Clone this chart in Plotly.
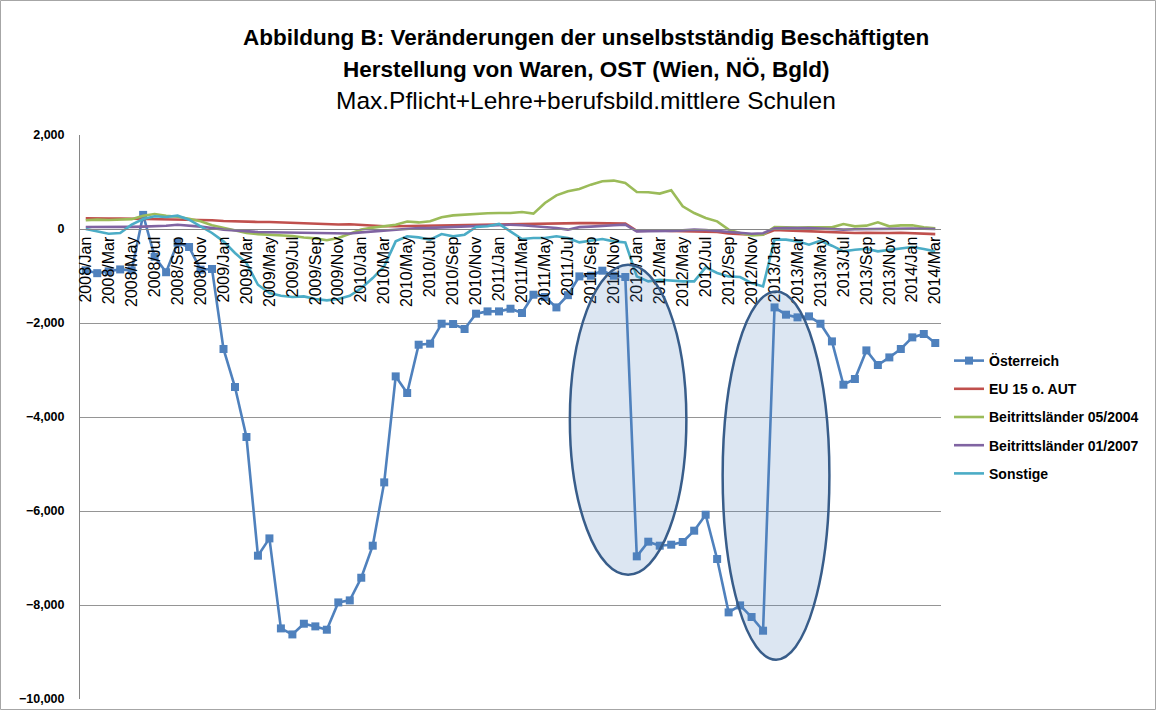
import plotly.graph_objects as go

month_names = ["Jan", "Feb", "Mar", "Apr", "May", "Jun", "Jul", "Aug", "Sep", "Oct", "Nov", "Dec"]
months = [f"{y}/{m}" for y in range(2008, 2015) for m in month_names][:75]
tick_labels = months[::2]

oesterreich = [-880, -940, -900, -860, -880, 300, -590, -920, -290, -383, -866, -851,
               -2553, -3362, -4426, -6951, -6583, -8498, -8626, -8398, -8455, -8526, -7945, -7902,
               -7420, -6738, -5391, -3136, -3490, -2462, -2440, -2015, -2022, -2128, -1802, -1753,
               -1753, -1696, -1787, -1398, -1447, -1668, -1408, -1008, -994, -887, -994, -1021,
               -6965, -6653, -6738, -6717, -6660, -6419, -6079, -7022, -8157, -8008, -8256, -8547,
               -1668, -1823, -1880, -1859, -2015, -2391, -3313, -3192, -2583, -2894, -2732, -2553,
               -2306, -2234, -2426]

eu15 = [230, 235, 225, 222, 218, 212, 215, 212, 210, 200, 195, 185,
        170, 160, 160, 150, 150, 140, 130, 115, 100, 95, 95, 100,
        85, 65, 60, 60, 65, 70, 75, 75, 80, 85, 90, 100,
        105, 110, 110, 115, 120, 115, 120, 125, 125, 125, 125, 115,
        -40, -30, -30, -40, -45, -55, -45, -65, -95, -110, -120, -115,
        -20, -30, -40, -50, -55, -65, -80, -85, -80, -90, -85, -80,
        -85, -100, -110]

bl2004 = [185, 200, 190, 195, 210, 280, 320, 280, 260, 220, 163, 80,
          21, -40, -85, -110, -120, -130, -150, -180, -200, -240, -190, -100,
          -10, 30, 60, 92, 160, 140, 163, 248, 290, 310, 327, 335,
          340, 340, 362, 327, 554, 717, 802, 852, 944, 1015, 1030, 980,
          788, 781, 753, 824, 483, 340, 234, 163, -14, -85, -135, -120,
          43, 35, 30, 35, 35, 35, 106, 57, 71, 142, 57, 78,
          78, 35, 14]

bl2007 = [43, 40, 40, 45, 45, 50, 55, 70, 90, 75, 50, 20,
          -14, -30, -50, -64, -70, -75, -80, -85, -90, -95, -100, -95,
          -71, -50, -28, -10, 10, 21, 25, 35, 45, 57, 60, 70,
          80, 92, 80, 60, 43, 20, -14, 40, 50, 71, 80, 92,
          -50, -45, -50, -40, -30, -14, -20, -40, -71, -85, -100, -90,
          14, 18, 21, 20, 10, 0, -14, -5, 0, 5, 7, 7,
          7, 5, 0]

sonstige = [0, -50, -100, -85, 92, 213, 270, 256, 284, 199, 57, -85,
            -263, -511, -724, -1186, -1363, -1420, -1448, -1434, -1491, -1519, -1490, -1420,
            -1260, -1044, -795, -263, -156, -178, -227, -107, -156, -121, 43, 57,
            107, -50, -213, -192, -192, -156, -192, -284, -241, -213, -263, -284,
            -1008, -1115, -1079, -1100, -1115, -1115, -817, -937, -1008, -1022, -1150, -1221,
            -227, -227, -263, -334, -249, -355, -476, -440, -419, -476, -440, -405,
            -383, -426, -476]

series = [
    ("Österreich", oesterreich, "#4F81BD", True),
    ("EU 15 o. AUT", eu15, "#C0504D", False),
    ("Beitrittsländer 05/2004", bl2004, "#9BBB59", False),
    ("Beitrittsländer 01/2007", bl2007, "#8064A2", False),
    ("Sonstige", sonstige, "#4BACC6", False),
]

FONT = "Liberation Sans, Arial, sans-serif"

fig = go.Figure()
for name, vals, color, markers in series:
    fig.add_trace(go.Scatter(
        x=months, y=vals, name=name, legendgroup=name,
        mode="lines+markers" if markers else "lines",
        line=dict(color=color, width=2.6),
        marker=dict(symbol="square", size=8, color=color) if markers else None,
    ))

W, H = 1157, 711
L, R, T, B = 80, 216, 135, 12
pw, ph = W - L - R, H - T - B

def px_x(p):
    return (p - L) / pw

def px_y(p):
    return (H - B - p) / ph

# highlight ellipses (data coordinates)
for x0, x1, y0, y1 in [(42.17, 52.32, -7355, -760), (55.48, 64.78, -9164, -1328)]:
    fig.add_shape(type="circle", xref="x", yref="y", x0=x0, x1=x1, y0=y0, y1=y1,
                  line=dict(color="#385D8A", width=2.5),
                  fillcolor="rgba(79,129,189,0.2)", layer="above")

# chart border
fig.add_shape(type="rect", xref="paper", yref="paper",
              x0=px_x(0.5), x1=px_x(W - 1.5), y0=px_y(H - 1.5), y1=px_y(0.5),
              line=dict(color="#A6A6A6", width=1), fillcolor="rgba(0,0,0,0)", layer="below")

titles = [
    ("<b>Abbildung B: Veränderungen der unselbstständig Beschäftigten</b>", 37, 22.5),
    ("<b>Herstellung von Waren, OST (Wien, NÖ, Bgld)</b>", 69, 22.5),
    ("Max.Pflicht+Lehre+berufsbild.mittlere Schulen", 100, 24.5),
]
for text, ypx, size in titles:
    fig.add_annotation(text=text, xref="paper", yref="paper", x=px_x(586), y=px_y(ypx),
                       xanchor="center", yanchor="middle", showarrow=False,
                       font=dict(family=FONT, size=size, color="black"))

fig.update_layout(
    width=W, height=H,
    margin=dict(l=L, r=R, t=T, b=B, autoexpand=False),
    paper_bgcolor="white", plot_bgcolor="white",
    font=dict(family=FONT, color="black"),
    showlegend=True,
    legend=dict(xref="container", yref="container", x=949 / W, y=1 - 345 / H,
                xanchor="left", yanchor="top",
                font=dict(size=14, color="black", family=FONT, weight="bold"),
                tracegroupgap=7, traceorder="grouped", bgcolor="rgba(0,0,0,0)"),
)
fig.update_xaxes(
    type="category", range=[-0.5, 74.5],
    tickmode="array", tickvals=tick_labels, ticktext=tick_labels,
    tickangle=-90, tickfont=dict(size=16, family=FONT),
    showgrid=False, showline=True, linecolor="#868686", linewidth=1,
    anchor="free", position=px_y(229.3), ticks="", zeroline=False, automargin=False,
)
fig.update_yaxes(
    range=[-10000, 2000], dtick=2000, tickformat=",",
    tickfont=dict(size=12.5, family=FONT, weight="bold"),
    showgrid=True, gridcolor="#959595", gridwidth=1,
    showline=True, linecolor="#868686", linewidth=1,
    zeroline=False, ticks="", ticklabelstandoff=12, automargin=False,
)

fig.write_html("out.html", config={"displayModeBar": False},
               post_script="document.body.style.margin='0';document.body.style.overflow='hidden';")
